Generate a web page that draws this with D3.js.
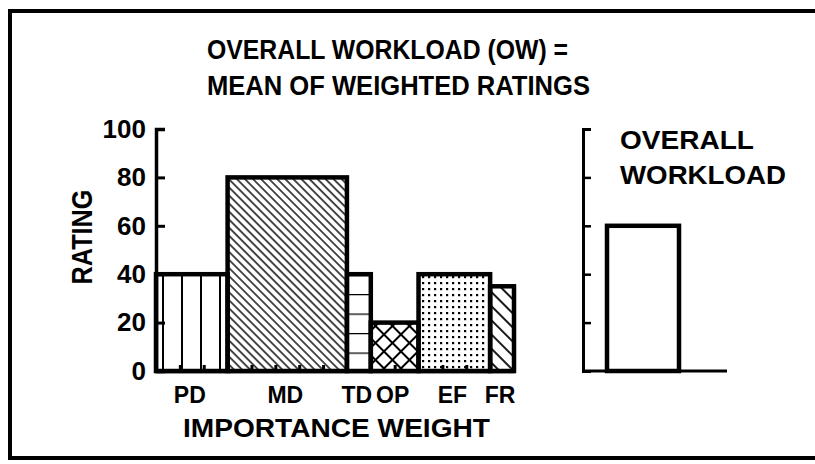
<!DOCTYPE html>
<html><head><meta charset="utf-8">
<script src="https://cdn.jsdelivr.net/npm/d3@7"></script>
<style>body{margin:0;background:#fff}svg{display:block}</style>
</head><body><svg id="c" width="815" height="464"></svg>
<script>
// ---- data ----
const categories = ["PD", "MD", "TD", "OP", "EF", "FR"];
const weights = [3, 5, 1, 2, 3, 1];
const ratings = [40, 80, 40, 20, 40, 35];
const patternNames = ["vert", "diag", "horiz", "cross", "dots", "diagwide"];
const overallRating = 60;
const overallWeight = 3;
const yTickValues = [0, 20, 40, 60, 80, 100];
const titleLines = ["OVERALL WORKLOAD (OW) =", "MEAN OF WEIGHTED RATINGS"];
const overallLines = ["OVERALL", "WORKLOAD"];
const yLabel = "RATING";
const xLabel = "IMPORTANCE WEIGHT";

const FONT = "'Liberation Sans', Arial, Helvetica, sans-serif";
const svg = d3.select("#c");
const totalW = d3.sum(weights);
const starts = d3.cumsum([0, ...weights]);

const y = d3.scaleLinear().domain([0, 100]).range([371, 129]);
const x = d3.scaleLinear().domain([0, totalW]).range([156, 514]);
const xR = d3.scaleLinear().domain([0, 6]).range([583, 727]);

// ---- patterns ----
const defs = svg.append("defs");
let p = defs.append("pattern").attr("id", "vert").attr("patternUnits", "userSpaceOnUse")
  .attr("x", 162).attr("y", 0).attr("width", 19).attr("height", 10);
p.append("line").attr("x1", 1).attr("x2", 1).attr("y1", -1).attr("y2", 11).attr("stroke", "#000").attr("stroke-width", 2);

p = defs.append("pattern").attr("id", "diag").attr("patternUnits", "userSpaceOnUse")
  .attr("width", 5.7).attr("height", 5.7).attr("patternTransform", "rotate(-45)");
p.append("line").attr("x1", 1).attr("x2", 1).attr("y1", -1).attr("y2", 7).attr("stroke", "#000").attr("stroke-width", 1.4);

p = defs.append("pattern").attr("id", "horiz").attr("patternUnits", "userSpaceOnUse")
  .attr("x", 0).attr("y", y(0) + 1).attr("width", 10).attr("height", 19.5);
p.append("line").attr("x1", -1).attr("x2", 11).attr("y1", 0).attr("y2", 0).attr("stroke", "#000").attr("stroke-width", 2.5);

p = defs.append("pattern").attr("id", "cross").attr("patternUnits", "userSpaceOnUse")
  .attr("x", 3).attr("width", 12).attr("height", 12).attr("patternTransform", "rotate(45)");
p.append("line").attr("x1", 1).attr("x2", 1).attr("y1", -1).attr("y2", 13).attr("stroke", "#000").attr("stroke-width", 2);
p.append("line").attr("x1", -1).attr("x2", 13).attr("y1", 1).attr("y2", 1).attr("stroke", "#000").attr("stroke-width", 2);

p = defs.append("pattern").attr("id", "dots").attr("patternUnits", "userSpaceOnUse")
  .attr("x", 420).attr("y", 274).attr("width", 6).attr("height", 6);
p.append("rect").attr("x", 2).attr("y", 2).attr("width", 2.2).attr("height", 2.2).attr("fill", "#000");

p = defs.append("pattern").attr("id", "diagwide").attr("patternUnits", "userSpaceOnUse")
  .attr("width", 10).attr("height", 10).attr("patternTransform", "rotate(-45)");
p.append("line").attr("x1", 1).attr("x2", 1).attr("y1", -1).attr("y2", 11).attr("stroke", "#000").attr("stroke-width", 1.8);

// ---- frame ----
svg.append("path").attr("d", "M830,11 H10 V458 H830")
  .attr("fill", "none").attr("stroke", "#000").attr("stroke-width", 4);

// ---- title ----
const titleLens = [361, 383];
svg.selectAll("text.title").data(titleLines).join("text").attr("class", "title")
  .attr("x", 207).attr("y", (d, i) => 59 + i * 36)
  .attr("font-family", FONT).attr("font-weight", "bold").attr("font-size", 27)
  .attr("textLength", (d, i) => titleLens[i]).attr("lengthAdjust", "spacingAndGlyphs")
  .text(d => d);

// ---- bars ----
const bars = categories.map((c, i) => ({ c, w: weights[i], r: ratings[i], s: starts[i], pat: patternNames[i] }));
svg.append("g").selectAll("rect").data(bars).join("rect")
  .attr("x", d => x(d.s)).attr("y", d => y(d.r))
  .attr("width", d => x(d.s + d.w) - x(d.s)).attr("height", d => y(0) - y(d.r))
  .attr("fill", d => `url(#${d.pat})`)
  .attr("stroke", "#000").attr("stroke-width", 4.5).attr("stroke-linejoin", "miter");

// ---- x axis (weight units) ----
const gx = svg.append("g").attr("transform", `translate(0,${y(0)})`)
  .call(d3.axisBottom(x).tickValues(d3.range(1, totalW)).tickSizeInner(-6).tickSizeOuter(0).tickFormat(""));
gx.select(".domain").attr("stroke-width", 3.5);
gx.selectAll(".tick line").attr("stroke-width", 3);

svg.append("g").selectAll("text").data(bars).join("text")
  .attr("x", d => x(d.s + d.w / 2) - 2).attr("y", 403)
  .attr("text-anchor", "middle")
  .attr("font-family", FONT).attr("font-weight", "bold").attr("font-size", 23)
  .text(d => d.c);

svg.append("text").attr("x", 183).attr("y", 437)
  .attr("font-family", FONT).attr("font-weight", "bold").attr("font-size", 25)
  .attr("textLength", 307).attr("lengthAdjust", "spacingAndGlyphs")
  .text(xLabel);

// ---- y axis ----
const gy = svg.append("g").attr("transform", `translate(${x(0)},0)`)
  .call(d3.axisLeft(y).tickValues(yTickValues).tickSizeInner(-9).tickSizeOuter(-9).tickPadding(10));
gy.select(".domain").attr("stroke-width", 3.5);
gy.selectAll(".tick line").attr("stroke-width", 3);
gy.selectAll(".tick text").attr("font-family", FONT).attr("font-weight", "bold")
  .attr("font-size", 26).attr("fill", "#000");

svg.append("text").attr("transform", `translate(92,237) rotate(-90)`)
  .attr("text-anchor", "middle")
  .attr("font-family", FONT).attr("font-weight", "bold").attr("font-size", 29)
  .attr("textLength", 95).attr("lengthAdjust", "spacingAndGlyphs")
  .text(yLabel);

// ---- overall workload panel ----
svg.append("rect")
  .attr("x", xR(1)).attr("y", y(overallRating))
  .attr("width", xR(1 + overallWeight) - xR(1)).attr("height", y(0) - y(overallRating))
  .attr("fill", "#fff").attr("stroke", "#000").attr("stroke-width", 4.5);

const gr = svg.append("g").attr("transform", `translate(${xR(0)},0)`)
  .call(d3.axisLeft(y).tickValues(yTickValues).tickSizeInner(-8).tickSizeOuter(-8).tickFormat(""));
gr.select(".domain").attr("stroke-width", 3);
gr.selectAll(".tick line").attr("stroke-width", 2.5);

svg.append("line").attr("x1", xR(0)).attr("x2", xR(6)).attr("y1", y(0)).attr("y2", y(0))
  .attr("stroke", "#000").attr("stroke-width", 3);

const ovLens = [134, 166];
svg.selectAll("text.ov").data(overallLines).join("text").attr("class", "ov")
  .attr("x", 620).attr("y", (d, i) => 149 + i * 35)
  .attr("font-family", FONT).attr("font-weight", "bold").attr("font-size", 26)
  .attr("textLength", (d, i) => ovLens[i]).attr("lengthAdjust", "spacingAndGlyphs")
  .text(d => d);
</script></body></html>
